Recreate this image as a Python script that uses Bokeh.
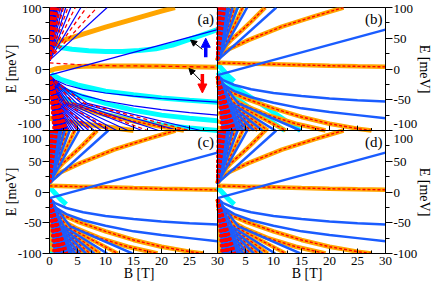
from bokeh.plotting import figure
from bokeh.models import Range1d, FixedTicker, Label, Arrow, NormalHead, LinearAxis, Span
from bokeh.embed import file_html
from bokeh.resources import INLINE

FONT = "Liberation Serif"
ORANGE = "#ffa500"
RED = "#ff0000"
BLUE_A = "#0000ff"
BLUE = "#1a5cff"
CYAN = "#00ffff"

# ---------------- axes ----------------
B_TICKS = [0, 5, 10, 15, 20, 25, 30]
B_MINOR = [2.5, 7.5, 12.5, 17.5, 22.5, 27.5]
E_TICKS = [-100, -50, 0, 50, 100]
E_MINOR = [-75, -25, 25, 75]
PANEL_TAGS = ["(a)", "(b)", "(c)", "(d)"]
X_LABEL = "B [T]"
Y_LABEL = "E [meV]"
X_LABEL_AT = [16, 46]      # centre of each axis title (field units, panels side by side)
Y_LABEL_AT = [100, -100]   # centre of each axis title (panels stacked)

# ---------------- shared curves ----------------
BLUE_UP_B = [0, 30]
BLUE_UP_E = [-10, 64]
UP_E0 = 14
LOW_E0 = -12
LOW_MID_E = -56

# ---------------- panel (a) ----------------
A_ORANGE_UP_B = [0, 5, 10, 15, 20, 22.4]
A_ORANGE_UP_E = [40, 54, 68, 81, 94, 100]
A_ORANGE_ZERO_B = [0, 1, 3, 6, 10, 15, 20, 25, 30]
A_ORANGE_ZERO_E = [-3, 0, 3, 4.5, 5, 5, 4.5, 3.8, 3]
A_RED_ZERO_B = [0, 3, 6, 9, 12, 15, 20, 25, 30]
A_RED_ZERO_E = [10, 8.3, 6.7, 5.6, 5.2, 5, 4.5, 3.8, 3]
A_CYAN_UP_B = [0.3, 1, 2, 4, 7, 10, 13, 16, 19, 22, 25, 30]
A_CYAN_UP_E = [44, 39, 35, 32, 29.5, 28.5, 28.5, 30, 33, 39, 48, 64]
A_CYAN_L1_B = [0.3, 2, 5, 10, 15, 20, 25, 30]
A_CYAN_L1_E = [-8, -17, -26, -36, -42, -47, -51, -54]
A_CYAN_L2_B = [0.5, 2, 5, 10, 15, 20, 25, 30]
A_CYAN_L2_E = [-24, -32, -42, -56, -67, -75, -80, -84]
A_CYAN_L3_B = [1, 5, 10, 15, 20, 25, 30]
A_CYAN_L3_E = [-40, -60, -74, -84, -91, -96, -100]
A_BLUE_L1_B = [0, 1, 3, 6, 10, 15, 20, 25, 30]
A_BLUE_L1_E = [-11, -18, -26, -33, -39, -44, -48, -51, -54]
A_BLUE_L2_B = [0, 3, 6, 10, 15, 20, 25, 30]
A_BLUE_L2_E = [-14, -33, -43, -52, -60, -66, -71, -75]
A_ORANGE_L1_B = [0, 5, 10, 15]
A_ORANGE_L1_E = [-80, -88, -94, -100]
A_ORANGE_L2_B = [0, 3, 8, 14, 20, 24]
A_ORANGE_L2_E = [-35, -55, -70, -83, -94, -100]
A_UP_BLUE_END = [10.3, 5.6, 3.8, 2.9, 2.3, 1.9, 1.6, 1.35, 1.15, 1.0, 0.85]
A_UP_RED_END = [8.5, 6.6, 4.6, 3.3, 2.5, 2.0, 1.7]
A_LOW_BLUE_END = [27, 23, 19.5, 16.5, 14, 12, 10.5, 9.2, 8, 7, 6.2, 5.5, 4.9, 4.4, 4.0, 3.6, 3.3]
A_LOW_RED_END = [25, 17.5, 11, 7.5, 5.2]
A_STUB_E = [-54, -80]
A_STUB_LEN = [1.3, 1.5]

# ---------------- panels (b), (c), (d) ----------------
UP_ORANGE1_B = [0, 0.5, 2, 5.5, 11.5, 17.4, 22.5]
UP_ORANGE1_E = [15, 21, 32, 47, 69, 86, 100]
UP_ORANGE2_B = [0, 1, 2.5, 4, 6, 8.5]
UP_ORANGE2_E = [15, 33, 48, 60, 77, 100]
ZERO_ORANGE_B = [0, 5, 10, 15, 20, 25, 30]
ZERO_ORANGE_E = [10, 8.8, 7.8, 6.5, 5.3, 4.3, 3.5]
LOW_BLUE1_B = [0, 1, 3, 6, 10, 15, 20, 25, 30]
LOW_BLUE1_E = [-10, -18, -26, -33, -39, -44, -48, -51, -53]
LOW_BLUE2_B = [0, 1, 3, 6, 10, 15, 20, 25, 30]
LOW_BLUE2_E = [-14, -25, -36, -46, -55, -64, -70, -75, -80]
LOW_ORANGE1_B = [0, 2, 5, 10, 15, 20, 25, 27.5]
LOW_ORANGE1_E = [-22, -36, -48, -64, -78, -89, -97, -100]
LOW_ORANGE2_B = [0, 2, 5, 9, 14, 19.3]
LOW_ORANGE2_E = [-26, -45, -60, -75, -89, -100]
CYAN_ZERO_B = [0, 1, 2, 3]
CYAN_ZERO_E = [8, -2, -12, -20]
B_CYAN_L1_B = [0, 2.6, 7.3, 14.8]
B_CYAN_L1_E = [-5, -27, -54, -100]
B_CYAN_L2_B = [0.5, 3, 6, 9, 12]
B_CYAN_L2_E = [-20, -45, -65, -82, -100]
UP_FAN_BLUE_END = [10.5, 5.3, 3.6, 2.7, 2.1, 1.7, 1.4, 1.2, 1.0]
UP_FAN_ORANGE_END = [4.5, 3.1, 2.4, 1.9, 1.5, 1.25]
B_UP_CYAN_END = [3.5, 2.2]
LOW_MID_BLUE_END = [14.8, 10.3, 8.0, 6.5, 5.4, 4.6, 4.0, 3.5]
LOW_MID_ORANGE_END = [12.2, 9.0, 7.2, 5.9, 5.0, 4.3, 3.75]
C_STUB_E = [-53, -61, -69, -77, -85, -93]
C_CYAN_STUB_E = [-57, -65, -73, -81, -89, -97]
D_STUB_E = [-42, -49, -56, -63, -70, -77, -84, -91, -98]
D_CYAN_STUB_E = [-45, -52, -59, -66, -73, -80, -87, -94]
B_STUB_E = [-50, -60, -72, -85, -95, 52, 65, 80]

# dense bands near B = 0
UP_BAND_END = [0.15, 0.22, 0.3, 0.38, 0.46, 0.55, 0.65, 0.75, 0.86, 1.0, 1.15, 1.3]
LOW_BAND_RED_END = [0.8, 0.95, 1.1, 1.25, 1.4, 1.55, 1.7, 1.85, 2.0, 2.15, 2.3, 2.5, 2.7, 2.9, 3.1]
LOW_BAND_BLUE_END = [0.87, 1.02, 1.17, 1.32, 1.47, 1.62, 1.77, 1.92, 2.07, 2.22, 2.4, 2.6, 2.8, 3.0, 3.2]

# arrows of panel (a): B0, E0, B1, E1
ARROW_BLACK = [(27.3, 32, 25.2, 47), (27.0, -19, 24.9, 0.8)]
ARROW_UP = (27.9, 19, 27.9, 50)
ARROW_DOWN = (27.3, -8, 27.3, -39)
TAG_B = 27.9
TAG_E = 82

# panel placement inside one frame: (B offset, E offset)
OFFS = {"a": (0, 100), "b": (30, 100), "c": (0, -100), "d": (30, -100)}

W, H = 434, 286
p = figure(width=W, height=H, x_range=Range1d(0, 60), y_range=Range1d(-200, 200),
           toolbar_location=None, output_backend="svg", title=None,
           min_border_left=48, min_border_right=48, min_border_top=7, min_border_bottom=33)
p.background_fill_color = "white"
p.border_fill_color = "white"
p.outline_line_color = "black"
p.outline_line_width = 1
p.xgrid.visible = False
p.ygrid.visible = False


def style_labels(a, size):
    a.major_label_text_font = FONT
    a.major_label_text_font_size = size
    a.major_label_text_color = "black"


# x axis (two panels side by side)
x_ticks = B_TICKS + [b + 30 for b in B_TICKS[1:]]
x_minor = B_MINOR + [b + 30 for b in B_MINOR]
xa = p.xaxis[0]
xa.ticker = FixedTicker(ticks=x_ticks, minor_ticks=x_minor)
xa.major_label_overrides = {t: str(t if t <= 30 else t - 30) for t in x_ticks}
xa.major_tick_in = 5
xa.major_tick_out = 0
xa.minor_tick_in = 3
xa.minor_tick_out = 0
xa.major_label_standoff = 3
xa.axis_line_color = "black"
xa.major_tick_line_color = "black"
xa.minor_tick_line_color = "black"
style_labels(xa, "13px")

# x titles, one per panel column
xt = LinearAxis(ticker=FixedTicker(ticks=X_LABEL_AT, minor_ticks=[]),
                major_label_overrides={t: X_LABEL for t in X_LABEL_AT})
xt.axis_line_color = None
xt.major_tick_line_color = None
xt.minor_tick_line_color = None
xt.major_tick_in = 0
xt.major_tick_out = 0
xt.major_label_standoff = -2
style_labels(xt, "14px")
p.add_layout(xt, "below")

# y axes (two panels stacked)
y_ticks = [e - 100 for e in E_TICKS] + [e + 100 for e in E_TICKS[1:]]
y_minor = [e - 100 for e in E_MINOR] + [e + 100 for e in E_MINOR]
y_over = {}
for e in E_TICKS:
    y_over[e - 100] = str(e)
for e in E_TICKS:
    y_over[e + 100] = str(e)
y_over[0] = str(E_TICKS[0]) + "\n" + str(E_TICKS[-1])
ra = LinearAxis()
p.add_layout(ra, "right")
for a in [p.yaxis[0], ra]:
    a.ticker = FixedTicker(ticks=y_ticks, minor_ticks=y_minor)
    a.major_label_overrides = dict(y_over)
    a.major_tick_out = 7
    a.major_tick_in = 0
    a.minor_tick_out = 4
    a.minor_tick_in = 0
    a.major_label_standoff = 1
    a.axis_line_color = "black"
    a.major_tick_line_color = "black"
    a.minor_tick_line_color = "black"
    a.major_label_text_line_height = 1.0
    style_labels(a, "13px")

# y titles, one per panel row, on both sides
for side in ["left", "right"]:
    yt = LinearAxis(ticker=FixedTicker(ticks=Y_LABEL_AT, minor_ticks=[]),
                    major_label_overrides={t: Y_LABEL for t in Y_LABEL_AT},
                    major_label_orientation="vertical")
    yt.axis_line_color = None
    yt.major_tick_line_color = None
    yt.minor_tick_line_color = None
    yt.major_tick_in = 0
    yt.major_tick_out = 0
    yt.major_label_standoff = -4
    style_labels(yt, "14px")
    p.add_layout(yt, side)

# panel dividers
p.add_layout(Span(location=0, dimension="width", line_color="black", line_width=1))
p.add_layout(Span(location=30, dimension="height", line_color="black", line_width=1))


def T(panel, b, e):
    ox, oy = OFFS[panel]
    return [v + ox for v in b], [v + oy for v in e]


def line(panel, b, e, **kw):
    x, y = T(panel, b, e)
    p.line(x, y, **kw)


def mline(panel, bs, es, **kw):
    ox, oy = OFFS[panel]
    p.multi_line([[v + ox for v in b] for b in bs], [[v + oy for v in e] for e in es], **kw)


def straight_fan(e0, ends, etop):
    return [[0, b] for b in ends], [[e0, etop] for _ in ends]


def curved_fan(e0, ends, emid, etop):
    return [[0, 0.25 * b, b] for b in ends], [[e0, emid, etop] for _ in ends]


def stubs(es, lens):
    return [[0, l] for l in lens], [[e, e - 2] for e in es]


def orange_red(panel, b, e, w=4.5):
    line(panel, b, e, line_color=ORANGE, line_width=w)
    line(panel, b, e, line_color=RED, line_width=1.4, line_dash="3 2")


def draw_bands(panel, blue):
    mline(panel, *straight_fan(LOW_E0, LOW_BAND_BLUE_END, -100), line_color=blue, line_width=1.5)
    mline(panel, *straight_fan(UP_E0, UP_BAND_END, 100), line_color=blue, line_width=1.5)
    mline(panel, *straight_fan(LOW_E0, LOW_BAND_RED_END, -100), line_color=RED, line_width=3,
          line_dash="3 2")
    mline(panel, *straight_fan(UP_E0 + 1, UP_BAND_END, 100), line_color=RED, line_width=3,
          line_dash="3 2")


# ---------------- panel (a) ----------------
mline("a", *stubs(A_STUB_E, A_STUB_LEN), line_color=ORANGE, line_width=4)
for b, e in [(A_CYAN_UP_B, A_CYAN_UP_E), (A_CYAN_L1_B, A_CYAN_L1_E),
             (A_CYAN_L2_B, A_CYAN_L2_E), (A_CYAN_L3_B, A_CYAN_L3_E)]:
    line("a", b, e, line_color=CYAN, line_width=5)
line("a", A_ORANGE_UP_B, A_ORANGE_UP_E, line_color=ORANGE, line_width=5)
line("a", A_ORANGE_ZERO_B, A_ORANGE_ZERO_E, line_color=ORANGE, line_width=5)
line("a", A_ORANGE_L1_B, A_ORANGE_L1_E, line_color=ORANGE, line_width=5)
orange_red("a", A_ORANGE_L2_B, A_ORANGE_L2_E)
line("a", A_RED_ZERO_B, A_RED_ZERO_E, line_color=RED, line_width=1.3, line_dash="4 3")
line("a", BLUE_UP_B, BLUE_UP_E, line_color=BLUE_A, line_width=1.2)
line("a", A_BLUE_L1_B, A_BLUE_L1_E, line_color=BLUE_A, line_width=1.2)
line("a", A_BLUE_L2_B, A_BLUE_L2_E, line_color=BLUE_A, line_width=1.2)
mline("a", *straight_fan(UP_E0, A_UP_BLUE_END, 100), line_color=BLUE_A, line_width=1.2)
mline("a", *straight_fan(UP_E0 + 2, A_UP_RED_END, 100), line_color=RED, line_width=1.3,
      line_dash="4 3")
mline("a", *curved_fan(LOW_E0, A_LOW_BLUE_END, LOW_MID_E, -100), line_color=BLUE_A, line_width=1.2)
mline("a", *curved_fan(LOW_E0, A_LOW_RED_END, LOW_MID_E, -100), line_color=RED, line_width=1.3,
      line_dash="4 3")
draw_bands("a", BLUE_A)
oxa, oya = OFFS["a"]
for (x0, y0, x1, y1) in ARROW_BLACK:
    p.add_layout(Arrow(end=NormalHead(size=6, fill_color="black", line_color="black"),
                       x_start=x0 + oxa, y_start=y0 + oya, x_end=x1 + oxa, y_end=y1 + oya,
                       line_color="black", line_width=1))
for (x0, y0, x1, y1), col in [(ARROW_UP, BLUE_A), (ARROW_DOWN, RED)]:
    p.add_layout(Arrow(end=NormalHead(size=9, fill_color=col, line_color=col),
                       x_start=x0 + oxa, y_start=y0 + oya, x_end=x1 + oxa, y_end=y1 + oya,
                       line_color=col, line_width=3.5))


def common_bcd(panel, stub_e, stub_len, cyan_stub_e, cyan_len):
    if cyan_stub_e:
        mline(panel, *stubs(cyan_stub_e, [cyan_len] * len(cyan_stub_e)), line_color=CYAN,
              line_width=4)
    mline(panel, *stubs(stub_e, [stub_len] * len(stub_e)), line_color=ORANGE, line_width=4)
    line(panel, CYAN_ZERO_B, CYAN_ZERO_E, line_color=CYAN, line_width=5)
    for b, e in [(UP_ORANGE1_B, UP_ORANGE1_E), (UP_ORANGE2_B, UP_ORANGE2_E),
                 (ZERO_ORANGE_B, ZERO_ORANGE_E), (LOW_ORANGE1_B, LOW_ORANGE1_E),
                 (LOW_ORANGE2_B, LOW_ORANGE2_E)]:
        orange_red(panel, b, e)
    xs, ys = straight_fan(UP_E0, UP_FAN_ORANGE_END, 100)
    mline(panel, xs, ys, line_color=ORANGE, line_width=4)
    mline(panel, xs, ys, line_color=RED, line_width=1.3, line_dash="3 2")
    xs, ys = curved_fan(LOW_E0, LOW_MID_ORANGE_END, LOW_MID_E, -100)
    mline(panel, xs, ys, line_color=ORANGE, line_width=4)
    mline(panel, xs, ys, line_color=RED, line_width=1.3, line_dash="3 2")
    line(panel, BLUE_UP_B, BLUE_UP_E, line_color=BLUE, line_width=2.5)
    line(panel, LOW_BLUE1_B, LOW_BLUE1_E, line_color=BLUE, line_width=2.5)
    line(panel, LOW_BLUE2_B, LOW_BLUE2_E, line_color=BLUE, line_width=2.5)
    mline(panel, *straight_fan(UP_E0, UP_FAN_BLUE_END, 100), line_color=BLUE, line_width=2.5)
    mline(panel, *curved_fan(LOW_E0, LOW_MID_BLUE_END, LOW_MID_E, -100), line_color=BLUE,
          line_width=2.5)
    draw_bands(panel, BLUE)


# ---------------- panel (b) ----------------
line("b", B_CYAN_L1_B, B_CYAN_L1_E, line_color=CYAN, line_width=5)
line("b", B_CYAN_L2_B, B_CYAN_L2_E, line_color=CYAN, line_width=5)
mline("b", *straight_fan(UP_E0, B_UP_CYAN_END, 100), line_color=CYAN, line_width=4)
common_bcd("b", B_STUB_E, 0.9, [], 0)

# ---------------- panels (c), (d) ----------------
common_bcd("c", C_STUB_E, 1.3, C_CYAN_STUB_E, 1.0)
common_bcd("d", D_STUB_E, 2.0, D_CYAN_STUB_E, 1.6)

# inner ticks along the bottom of the upper panels
tick_len = 8
p.segment(x0=x_ticks, y0=[0] * len(x_ticks), x1=x_ticks, y1=[tick_len] * len(x_ticks),
          line_color="black", line_width=1)
p.segment(x0=x_minor, y0=[0] * len(x_minor), x1=x_minor, y1=[tick_len / 2] * len(x_minor),
          line_color="black", line_width=1)

# panel tags
for tag, key in zip(PANEL_TAGS, ["a", "b", "c", "d"]):
    ox, oy = OFFS[key]
    p.add_layout(Label(x=TAG_B + ox, y=TAG_E + oy, text=tag, text_align="center",
                       text_baseline="middle", text_font=FONT, text_font_size="15px",
                       text_color="black"))

open("out.html", "w").write(file_html(p, INLINE))
